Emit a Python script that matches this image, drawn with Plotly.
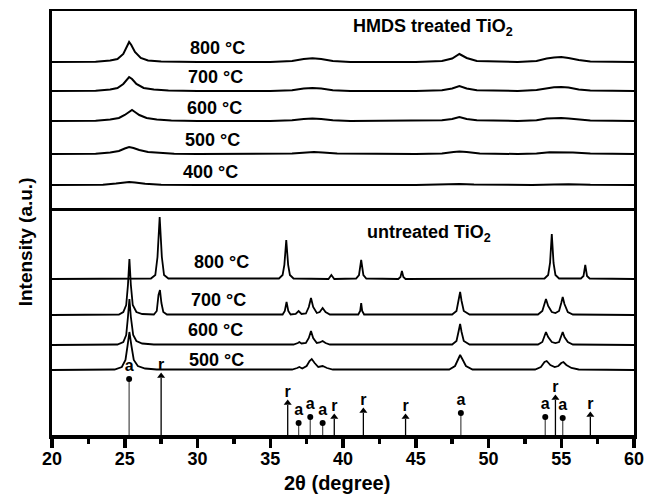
import plotly.graph_objects as go

# ---------------- DATA ----------------
# HMDS treated TiO2 (top panel): 2theta points and intensity above each baseline (a.u.)
hmds_temps = ["800 °C", "700 °C", "600 °C", "500 °C", "400 °C"]
hmds_x_800 = [20, 23.0, 24.0, 24.5, 24.9, 25.15, 25.3, 25.45, 25.7, 26.1, 26.6, 27.5, 30, 35, 36.5, 37.3, 37.9, 38.5, 39.3, 40.5,
              45, 46.8, 47.5, 48.0, 48.5, 49.2, 52, 53.3, 54.0, 54.5, 55.0, 55.5, 56.2, 57.0, 60]
hmds_y_800 = [0, 0.3, 1.5, 3, 8, 15, 20, 17, 10, 4, 1.5, 0.5, 0, 0, 1, 3, 3.8, 3, 1, 0,
              0, 1, 3.5, 8, 4, 1, 0, 1, 3.5, 4.5, 5, 4, 2, 0.5, 0]
hmds_x_700 = [20, 23.0, 24.0, 24.5, 24.9, 25.15, 25.3, 25.5, 25.8, 26.3, 27.0, 28.0, 30, 35, 36.5, 37.3, 37.9, 38.5, 39.3, 40.5,
              45, 46.8, 47.5, 48.0, 48.5, 49.2, 52, 53.3, 54.0, 54.5, 55.0, 55.5, 56.2, 57.0, 60]
hmds_y_700 = [0, 0.3, 1.5, 3, 7, 12, 14, 12, 7, 3, 1.5, 0.5, 0, 0, 0.8, 2.5, 3, 2.5, 0.8, 0,
              0, 0.8, 2.5, 5, 2.5, 0.8, 0, 1, 3, 3.8, 4, 3.5, 1.5, 0.5, 0]
hmds_x_600 = [20, 23.0, 24.0, 24.6, 25.0, 25.3, 25.5, 25.7, 26.0, 26.5, 27.2, 28.2, 30, 35, 36.5, 37.3, 37.9, 38.5, 39.3, 40.5,
              45, 46.8, 47.5, 48.0, 48.5, 49.2, 52, 53.3, 54.0, 54.5, 55.0, 55.5, 56.2, 57.0, 60]
hmds_y_600 = [0, 0.3, 1.5, 3, 6, 9, 11, 9, 6, 3, 1.5, 0.5, 0, 0, 0.7, 2, 2.5, 2, 0.7, 0,
              0, 0.7, 2, 4, 2, 0.7, 0, 0.8, 2.5, 3, 3, 2.5, 1.2, 0.4, 0]
hmds_x_500 = [20, 23.0, 24.0, 24.6, 25.0, 25.3, 25.6, 26.0, 26.6, 27.4, 28.4, 30, 35, 36.5, 37.5, 38.0, 38.6, 39.6,
              45, 46.8, 47.6, 48.0, 48.5, 49.4, 52, 53.3, 54.2, 55.0, 55.8, 57.0, 60]
hmds_y_500 = [0, 0.3, 1.5, 3, 5.5, 7, 6, 4, 2, 1, 0.3, 0, 0, 0.5, 1.5, 2, 1.5, 0.4,
              0, 0.5, 2, 2.5, 2, 0.5, 0, 0.5, 1.8, 2, 1.5, 0.4, 0]
hmds_x_400 = [20, 23.5, 24.4, 25.0, 25.3, 25.7, 26.4, 27.5, 30, 45, 47.0, 48.0, 49.0, 53.0, 54.5, 55.5, 57.0, 60]
hmds_y_400 = [0, 0.3, 1.5, 2.5, 3, 2.5, 1.2, 0.3, 0, 0, 0.4, 1, 0.4, 0, 0.6, 0.8, 0.2, 0]

# untreated TiO2 (lower panel): 2theta points and intensity above each baseline (a.u.)
untr_temps = ["800 °C", "700 °C", "600 °C", "500 °C"]
untr_x_800 = [20, 26.8, 27.1, 27.25, 27.4, 27.55, 27.7, 28.0, 35.6, 35.85, 35.97, 36.1, 36.23, 36.35, 36.6,
              39.0, 39.2, 39.4, 40.9, 41.1, 41.25, 41.4, 41.6, 43.8, 43.95, 44.05, 44.15, 44.3,
              53.85, 54.1, 54.23, 54.35, 54.47, 54.6, 54.85, 56.35, 56.53, 56.65, 56.77, 56.95, 60]
untr_y_800 = [0, 0.5, 4, 22, 62, 22, 4, 0.5, 0.5, 4, 14, 39, 14, 4, 0.5,
              0, 4, 0, 0.5, 4, 19, 4, 0.5, 0, 2, 8, 2, 0,
              0.5, 4, 16, 45, 16, 4, 0.5, 0.5, 3, 14, 3, 0.5, 0]
untr_x_700 = [20, 24.6, 24.9, 25.1, 25.22, 25.32, 25.42, 25.55, 25.8, 26.2, 27.0, 27.2, 27.32, 27.42, 27.52, 27.65, 27.9,
              35.85, 36.0, 36.12, 36.24, 36.4, 36.75, 36.95, 37.15, 37.45, 37.65, 37.8, 37.95, 38.2, 38.4, 38.6, 38.8, 39.1,
              41.05, 41.18, 41.25, 41.32, 41.45, 47.5, 47.8, 47.95, 48.05, 48.15, 48.3, 48.7,
              53.4, 53.7, 53.85, 53.95, 54.1, 54.35, 54.6, 54.85, 55.0, 55.1, 55.22, 55.45, 55.8, 60]
untr_y_700 = [0, 0.5, 3, 10, 30, 56, 30, 10, 3, 1, 0.5, 4, 20, 25, 12, 3, 0.5,
              0.5, 4, 13, 4, 0.5, 1, 4, 1, 1.5, 8, 17, 8, 2, 3, 7, 3, 0.5,
              0.5, 4, 12, 4, 0.5, 0.5, 4, 15, 23, 14, 4, 0.5,
              0.5, 4, 12, 16, 9, 3, 2, 4, 12, 18, 11, 3, 0.5, 0]
untr_x_600 = [20, 24.5, 24.9, 25.1, 25.22, 25.32, 25.42, 25.58, 25.8, 26.2, 27.0,
              36.6, 36.9, 37.0, 37.15, 37.45, 37.65, 37.8, 37.95, 38.2, 38.4, 38.6, 38.8, 39.1,
              47.5, 47.8, 47.95, 48.05, 48.15, 48.3, 48.7,
              53.4, 53.7, 53.85, 53.95, 54.1, 54.35, 54.6, 54.85, 55.0, 55.1, 55.22, 55.45, 55.8, 60]
untr_y_600 = [0, 0.5, 3, 10, 28, 46, 28, 10, 4, 1.5, 0.5,
              0.5, 2, 3, 1.5, 2, 7, 14, 7, 2, 2.5, 4, 2, 0.5,
              0.5, 4, 14, 21, 13, 4, 0.5,
              0.5, 3, 9, 13, 8, 3, 2, 3, 9, 13, 8, 3, 0.5, 0]
untr_x_500 = [20, 24.3, 24.8, 25.05, 25.2, 25.32, 25.45, 25.62, 25.9, 26.4, 27.2,
              36.5, 36.85, 37.0, 37.2, 37.5, 37.7, 37.85, 38.05, 38.3, 38.6, 38.9, 39.3,
              47.3, 47.7, 47.9, 48.05, 48.2, 48.45, 48.9,
              53.2, 53.6, 53.85, 54.0, 54.25, 54.55, 54.8, 55.0, 55.15, 55.35, 55.7, 56.2, 60]
untr_y_500 = [0, 0.5, 3, 10, 25, 38, 25, 10, 4, 1.5, 0.5,
              0.5, 2, 3, 1.5, 4, 9, 11, 7, 3, 4, 2, 0.5,
              0.5, 4, 11, 15, 11, 4, 0.5,
              0.5, 3, 8, 9, 5, 3, 4, 7, 8, 5, 2, 0.5, 0]

# reference patterns (stick positions and relative heights)
anatase_pos = [25.3, 36.95, 37.75, 38.6, 48.1, 53.9, 55.1]
anatase_h = [56, 12, 18, 12, 22, 18, 17]
rutile_pos = [27.5, 36.2, 39.4, 41.4, 44.3, 54.6, 57.0]
rutile_h = [57, 30, 16, 22, 16, 35, 18]

x_ticks = [20, 25, 30, 35, 40, 45, 50, 55, 60]

# ---------------- STYLE / LAYOUT ----------------
hmds_off = [146, 117, 87, 54, 23]
untr_off = [156, 120, 90, 65]
FONT = "Liberation Sans, Arial, Helvetica, sans-serif"

fig = go.Figure()

hmds_x = [hmds_x_800, hmds_x_700, hmds_x_600, hmds_x_500, hmds_x_400]
hmds_y = [hmds_y_800, hmds_y_700, hmds_y_600, hmds_y_500, hmds_y_400]
for xs, ys, off, name in zip(hmds_x, hmds_y, hmds_off, hmds_temps):
    fig.add_trace(go.Scatter(x=xs, y=[v + off for v in ys], mode="lines",
                             line=dict(color="black", width=2), xaxis="x2", yaxis="y2",
                             name="HMDS " + name, showlegend=False, hoverinfo="skip"))

untr_x = [untr_x_800, untr_x_700, untr_x_600, untr_x_500]
untr_y = [untr_y_800, untr_y_700, untr_y_600, untr_y_500]
for xs, ys, off, name in zip(untr_x, untr_y, untr_off, untr_temps):
    fig.add_trace(go.Scatter(x=xs, y=[v + off for v in ys], mode="lines",
                             line=dict(color="black", width=1.8), xaxis="x", yaxis="y",
                             name="untreated " + name, showlegend=False, hoverinfo="skip"))

# sticks
def stick_xy(pos, h):
    xs, ys = [], []
    for p, v in zip(pos, h):
        xs += [p, p, None]
        ys += [0, v, None]
    return xs, ys

ax_, ay_ = stick_xy(anatase_pos, anatase_h)
rx_, ry_ = stick_xy(rutile_pos, rutile_h)
fig.add_trace(go.Scatter(x=ax_, y=ay_, mode="lines", line=dict(color="#555555", width=1.3),
                         showlegend=False, hoverinfo="skip"))
fig.add_trace(go.Scatter(x=rx_, y=ry_, mode="lines", line=dict(color="black", width=1.3),
                         showlegend=False, hoverinfo="skip"))
fig.add_trace(go.Scatter(x=anatase_pos, y=anatase_h, mode="markers",
                         marker=dict(symbol="circle", size=6, color="black"),
                         showlegend=False, hoverinfo="skip"))
fig.add_trace(go.Scatter(x=rutile_pos, y=[v + 2 for v in rutile_h], mode="markers",
                         marker=dict(symbol="triangle-up", size=7, color="black"),
                         showlegend=False, hoverinfo="skip"))
fig.add_trace(go.Scatter(x=anatase_pos, y=[v + 12 for v in anatase_h], mode="text",
                         text=["a"] * len(anatase_pos),
                         textfont=dict(family=FONT, size=16, color="black", weight="bold"),
                         showlegend=False, hoverinfo="skip"))
fig.add_trace(go.Scatter(x=rutile_pos, y=[v + 12 for v in rutile_h], mode="text",
                         text=["r"] * len(rutile_pos),
                         textfont=dict(family=FONT, size=16, color="black", weight="bold"),
                         showlegend=False, hoverinfo="skip"))

ann = []
lab_font = dict(family=FONT, size=18, color="black", weight="bold")
for t, xx, yy in zip(hmds_temps, [31.35, 31.21, 31.15, 31.0, 30.87], [160, 131, 100, 68, 36]):
    ann.append(dict(x=xx, y=yy, xref="x2", yref="y2", text=t, showarrow=False, font=lab_font,
                    xanchor="center", yanchor="middle"))
for t, xx, yy in zip(untr_temps, [31.62, 31.42, 31.21, 31.28], [173, 135, 105, 75]):
    ann.append(dict(x=xx, y=yy, xref="x", yref="y", text=t, showarrow=False, font=lab_font,
                    xanchor="center", yanchor="middle"))
ann.append(dict(x=46.2, y=181, xref="x2", yref="y2", text="HMDS treated TiO<sub>2</sub>",
                showarrow=False, font=lab_font, xanchor="center", yanchor="middle"))
ann.append(dict(x=45.9, y=202, xref="x", yref="y", text="untreated TiO<sub>2</sub>",
                showarrow=False, font=lab_font, xanchor="center", yanchor="middle"))
ann.append(dict(x=-0.046, y=0.455, xref="paper", yref="paper", text="Intensity (a.u.)",
                textangle=-90, showarrow=False,
                font=dict(family=FONT, size=19, color="black", weight="bold"),
                xanchor="center", yanchor="middle"))
ann.append(dict(x=0.49, y=-0.113, xref="paper", yref="paper", text="2θ (degree)",
                showarrow=False, font=dict(family=FONT, size=20, color="black", weight="bold"),
                xanchor="center", yanchor="middle"))

split = 227 / 424
fig.update_layout(
    width=645, height=501,
    margin=dict(l=52, r=8, t=11, b=66),
    paper_bgcolor="white", plot_bgcolor="white",
    showlegend=False,
    annotations=ann,
    xaxis=dict(range=[20, 60], domain=[0, 1], anchor="y",
               tickvals=x_ticks, ticktext=[str(v) for v in x_ticks],
               ticks="outside", ticklen=9, tickwidth=3.5, tickcolor="black",
               ticklabelstandoff=-4,
               minor=dict(ticks="outside", tickmode="array",
                          tickvals=[22.5, 27.5, 32.5, 37.5, 42.5, 47.5, 52.5, 57.5],
                          ticklen=5, tickwidth=3.5, tickcolor="black"),
               showline=True, linewidth=3.5, linecolor="black", mirror=False,
               showgrid=False, zeroline=False, automargin=False,
               tickfont=dict(family=FONT, size=18, color="black", weight="bold")),
    yaxis=dict(range=[0, 227], domain=[0, split], anchor="x",
               showline=True, linewidth=3, linecolor="black", mirror=True,
               showticklabels=False, ticks="", showgrid=False, zeroline=False),
    xaxis2=dict(range=[20, 60], domain=[0, 1], anchor="y2", matches="x",
                showline=True, linewidth=2.5, linecolor="black", mirror=True,
                showticklabels=False, ticks="", showgrid=False, zeroline=False),
    yaxis2=dict(range=[0, 197], domain=[split, 1], anchor="x2",
                showline=True, linewidth=3, linecolor="black", mirror=True,
                showticklabels=False, ticks="", showgrid=False, zeroline=False),
)

fig.write_html("out.html", config={"displayModeBar": False, "staticPlot": True},
               post_script="document.body.style.margin='0';document.body.style.padding='0';")
